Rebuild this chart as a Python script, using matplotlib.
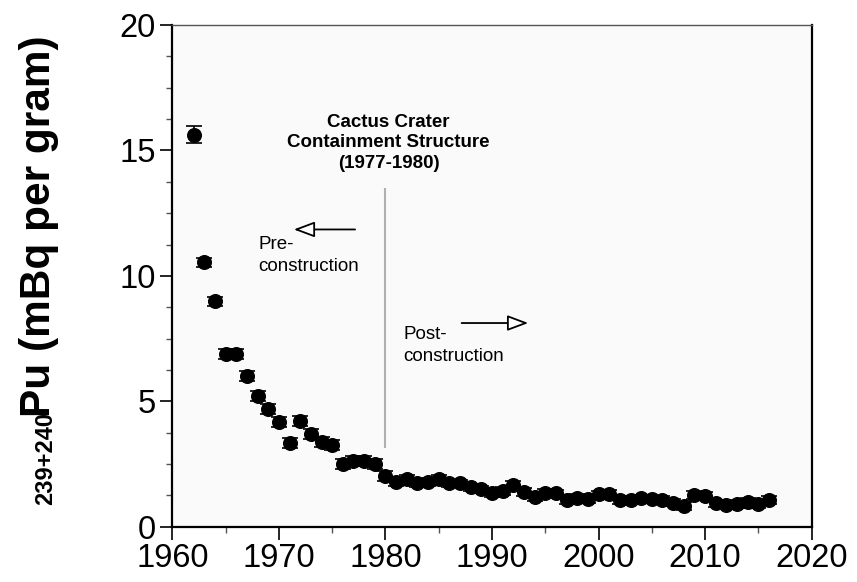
import numpy as np
import matplotlib.pyplot as plt
from matplotlib.ticker import MultipleLocator

plt.rcParams['font.family'] = ['Liberation Sans', 'DejaVu Sans']

# Annual Pu-239+240 activity (mBq per gram)
years = np.arange(1962, 2017)
pu = [15.63, 10.55, 8.99, 6.87, 6.87, 6.01, 5.21, 4.68, 4.17, 3.32,
      4.20, 3.69, 3.38, 3.25, 2.49, 2.63, 2.63, 2.49, 2.01, 1.79,
      1.92, 1.75, 1.79, 1.92, 1.73, 1.73, 1.57, 1.49, 1.33, 1.43,
      1.66, 1.39, 1.17, 1.35, 1.33, 1.06, 1.15, 1.09, 1.29, 1.31,
      1.06, 1.06, 1.13, 1.09, 1.06, 0.96, 0.82, 1.26, 1.22, 0.93,
      0.86, 0.90, 1.00, 0.90, 1.06]
pu_err = [0.33, 0.18, 0.18] + [0.2] * 16 + [0.15] * 36

construction_year = 1980
line_bottom, line_top = 3.15, 13.5

fig = plt.figure(figsize=(8.57, 5.82), dpi=100)
ax = fig.add_axes([0.2011, 0.095, 0.746, 0.862])
ax.set_facecolor('#fafafa')

ax.errorbar(years, pu, yerr=pu_err, fmt='o', color='black', ms=9.8,
            ecolor='black', elinewidth=1.2, capsize=6, capthick=1.2, zorder=3)

ax.vlines(construction_year, line_bottom, line_top, color='#b0b0b0', lw=1.5)

ax.text(1980.3, 15.3, "Cactus Crater\nContainment Structure\n(1977-1980)",
        ha='center', va='center', fontsize=13.5, fontweight='bold', linespacing=1.25)
ax.text(1968.05, 10.8, "Pre-\nconstruction", ha='left', va='center',
        fontsize=13.5, linespacing=1.4)
ax.text(1981.65, 7.23, "Post-\nconstruction", ha='left', va='center',
        fontsize=13.5, linespacing=1.4)

arrow = dict(arrowstyle='-|>,head_length=0.8,head_width=0.3', mutation_scale=16,
             fc='white', ec='black', lw=1.3, shrinkA=0, shrinkB=0)
ax.annotate('', xy=(1971.4, 11.85), xytext=(1977.15, 11.85), arrowprops=arrow)
ax.annotate('', xy=(1993.4, 8.12), xytext=(1987.15, 8.12), arrowprops=arrow)

ax.set_xlim(1960, 2020)
ax.set_ylim(0, 20)
ax.xaxis.set_major_locator(MultipleLocator(10))
ax.xaxis.set_minor_locator(MultipleLocator(5))
ax.yaxis.set_major_locator(MultipleLocator(5))
ax.yaxis.set_minor_locator(MultipleLocator(1.25))
ax.tick_params(which='major', direction='out', length=9, width=1.2,
               labelsize=23.5, pad=3)
ax.tick_params(which='minor', direction='out', length=4.5, width=1.0, color='#555555')
ax.tick_params(axis='x', which='minor', length=4)

for side in ['left', 'bottom', 'right']:
    ax.spines[side].set_linewidth(1.6)
    ax.spines[side].set_color('black')
ax.spines['top'].set_linewidth(1.0)
ax.spines['top'].set_color('#555555')

# y-axis label: isotope superscript + rest of the label
fig.text(0.053, 0.132, "239+240", rotation=90, fontsize=17, fontweight='bold',
         ha='center', va='bottom')
fig.text(0.046, 0.2835, "Pu (mBq per gram)", rotation=90, fontsize=30.5,
         fontweight='bold', ha='center', va='bottom')

fig.savefig("out.png", dpi=100)
